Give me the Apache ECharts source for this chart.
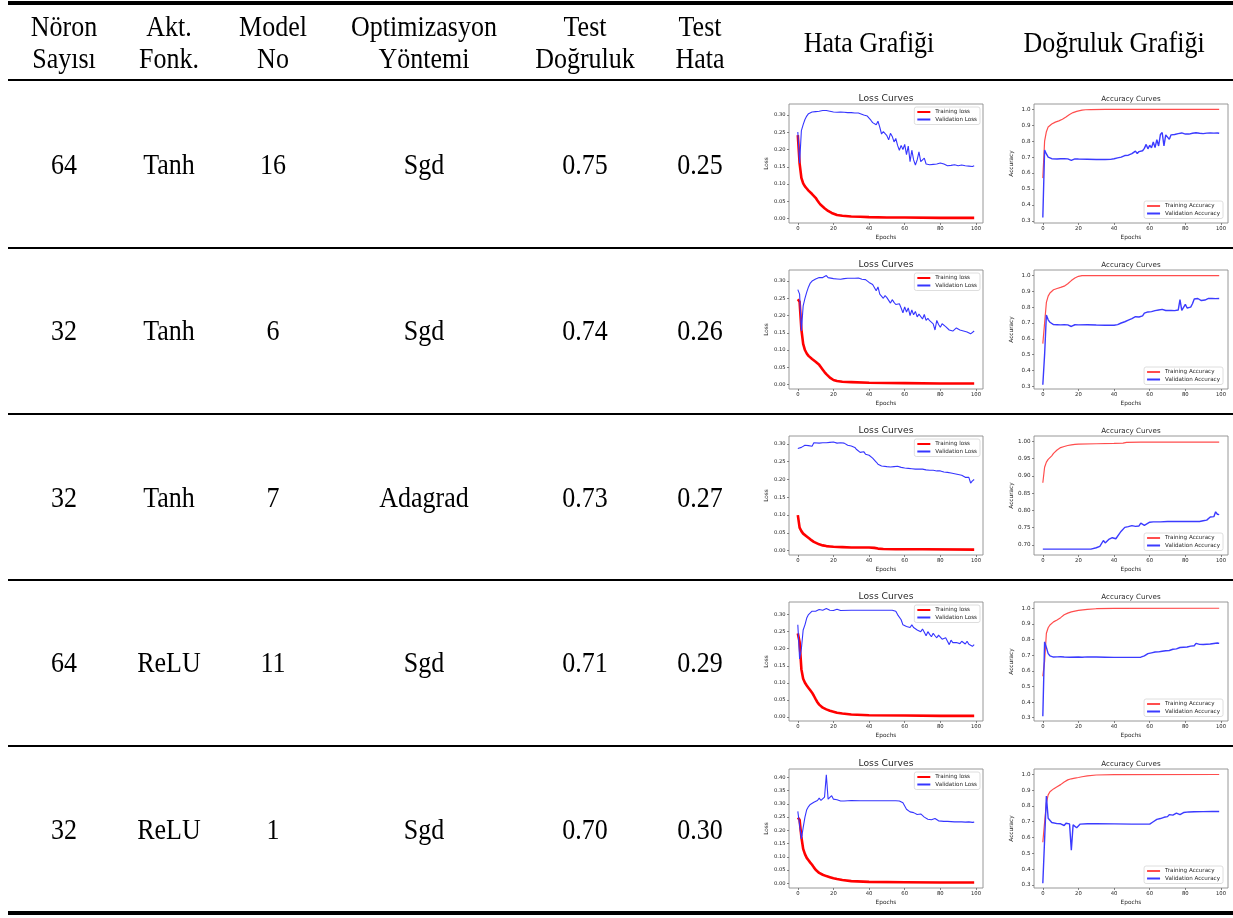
<!DOCTYPE html>
<html><head><meta charset="utf-8">
<script src="https://cdn.jsdelivr.net/npm/echarts@6/dist/echarts.min.js"></script>
<style>html,body{margin:0;padding:0;background:#fff}#c{width:1233px;height:918px}</style>
</head><body><div id="c"></div><script>
// ---------- table data ----------
const headerLine1 = ['Nöron', 'Akt.', 'Model', 'Optimizasyon', 'Test', 'Test'];
const headerLine2 = ['Sayısı', 'Fonk.', 'No', 'Yöntemi', 'Doğruluk', 'Hata'];
const chartHeaders = ['Hata Grafiği', 'Doğruluk Grafiği'];
const neurons = ['64', '32', '32', '64', '32'];
const activations = ['Tanh', 'Tanh', 'Tanh', 'ReLU', 'ReLU'];
const modelNo = ['16', '6', '7', '11', '1'];
const optimizers = ['Sgd', 'Sgd', 'Adagrad', 'Sgd', 'Sgd'];
const testAccuracy = ['0.75', '0.74', '0.73', '0.71', '0.70'];
const testError = ['0.25', '0.26', '0.27', '0.29', '0.30'];

// ---------- tick labels ----------
const epochTicks = [0, 20, 40, 60, 80, 100];
const lossTicks = [0, 0.05, 0.10, 0.15, 0.20, 0.25, 0.30];
const lossTicksWide = [0, 0.05, 0.10, 0.15, 0.20, 0.25, 0.30, 0.35, 0.40];
const accTicks = [0.3, 0.4, 0.5, 0.6, 0.7, 0.8, 0.9, 1.0];
const accTicksFine = [0.70, 0.75, 0.80, 0.85, 0.90, 0.95, 1.00];

// ---------- series data: [epoch, value] ----------
const r1LossTrain = [[0,0.242],[1,0.16],[2,0.118],[3,0.102],[4,0.093],[5,0.087],[6,0.081],[7,0.076],[8,0.071],[9,0.066],[10,0.06],[11,0.052],[12,0.045],[13,0.039],[14,0.034],[15,0.03],[16,0.026],[17,0.022],[18,0.019],[19,0.016],[20,0.013],[22,0.01],[25,0.008],[30,0.006],[35,0.005],[40,0.004],[50,0.003],[60,0.003],[80,0.002],[99,0.002]];
const r1LossVal = [[0,0.251],[1,0.16],[2,0.255],[3,0.272],[4,0.287],[5,0.297],[6,0.304],[7,0.308],[8,0.309],[10,0.31],[12,0.311],[14,0.313],[16,0.313],[18,0.311],[20,0.309],[22,0.308],[24,0.309],[26,0.308],[28,0.307],[30,0.307],[32,0.306],[34,0.306],[35,0.303],[37,0.3],[39,0.297],[40,0.293],[41,0.285],[42,0.278],[43,0.282],[44,0.272],[45,0.282],[46,0.265],[47,0.245],[48,0.252],[49,0.25],[50,0.24],[51,0.228],[52,0.247],[53,0.238],[54,0.222],[55,0.232],[56,0.212],[57,0.198],[58,0.212],[59,0.2],[60,0.215],[61,0.185],[62,0.21],[63,0.165],[64,0.198],[65,0.17],[66,0.155],[67,0.17],[68,0.193],[69,0.165],[70,0.16],[71,0.175],[72,0.158],[73,0.162],[74,0.156],[75,0.161],[76,0.157],[77,0.16],[78,0.158],[79,0.157],[80,0.161],[82,0.158],[84,0.153],[86,0.154],[88,0.156],[90,0.153],[92,0.155],[94,0.153],[96,0.152],[97,0.15],[98,0.151],[99,0.153]];
const r1AccTrain = [[0,0.568],[1,0.8],[2,0.86],[3,0.89],[4,0.9],[5,0.908],[6,0.915],[7,0.92],[8,0.925],[9,0.928],[10,0.932],[11,0.938],[12,0.945],[13,0.952],[14,0.96],[15,0.968],[16,0.975],[17,0.98],[18,0.984],[19,0.988],[20,0.991],[22,0.995],[24,0.998],[27,0.999],[35,1.0],[99,1.0]];
const r1AccVal = [[0,0.321],[1,0.745],[2,0.72],[3,0.7],[4,0.695],[5,0.69],[6,0.688],[8,0.688],[10,0.69],[12,0.69],[14,0.689],[15,0.688],[16,0.68],[17,0.69],[18,0.689],[20,0.688],[25,0.687],[30,0.685],[35,0.685],[38,0.686],[40,0.69],[42,0.695],[43,0.693],[44,0.7],[45,0.698],[46,0.71],[47,0.722],[48,0.712],[49,0.718],[50,0.722],[51,0.728],[52,0.738],[53,0.722],[54,0.735],[55,0.745],[56,0.74],[57,0.755],[58,0.78],[59,0.752],[60,0.775],[61,0.758],[62,0.795],[63,0.76],[64,0.81],[65,0.77],[66,0.842],[67,0.855],[68,0.77],[69,0.84],[70,0.852],[71,0.812],[72,0.84],[73,0.848],[74,0.842],[75,0.838],[76,0.848],[77,0.845],[78,0.852],[79,0.843],[80,0.845],[81,0.84],[82,0.845],[84,0.85],[85,0.855],[86,0.853],[88,0.85],[90,0.848],[92,0.851],[94,0.852],[96,0.851],[98,0.852],[99,0.85]];

const r2LossTrain = [[0,0.247],[1,0.24],[2,0.16],[3,0.118],[4,0.1],[5,0.09],[6,0.083],[7,0.078],[8,0.074],[9,0.07],[10,0.066],[11,0.062],[12,0.057],[13,0.05],[14,0.043],[15,0.036],[16,0.03],[17,0.025],[18,0.02],[19,0.016],[20,0.013],[22,0.01],[25,0.008],[30,0.007],[40,0.005],[60,0.004],[80,0.003],[99,0.003]];
const r2LossVal = [[0,0.275],[1,0.262],[2,0.155],[3,0.228],[4,0.25],[5,0.268],[6,0.283],[7,0.294],[8,0.3],[9,0.304],[10,0.306],[11,0.309],[12,0.31],[13,0.308],[14,0.31],[15,0.312],[16,0.316],[17,0.31],[18,0.308],[20,0.307],[22,0.306],[24,0.305],[26,0.307],[28,0.308],[30,0.308],[32,0.308],[34,0.309],[35,0.307],[36,0.305],[38,0.304],[39,0.3],[40,0.296],[41,0.292],[42,0.29],[43,0.287],[44,0.272],[45,0.283],[46,0.262],[47,0.26],[48,0.25],[49,0.258],[50,0.252],[51,0.244],[52,0.236],[53,0.246],[54,0.238],[55,0.232],[56,0.232],[57,0.234],[58,0.222],[59,0.208],[60,0.225],[61,0.21],[62,0.222],[63,0.2],[64,0.216],[65,0.202],[66,0.212],[67,0.196],[68,0.204],[69,0.199],[70,0.19],[71,0.203],[72,0.186],[73,0.192],[74,0.185],[75,0.18],[76,0.176],[77,0.158],[78,0.186],[79,0.174],[80,0.166],[81,0.176],[82,0.172],[83,0.168],[84,0.165],[85,0.158],[86,0.155],[87,0.155],[88,0.152],[89,0.164],[90,0.163],[91,0.158],[92,0.155],[93,0.155],[94,0.152],[95,0.152],[96,0.149],[97,0.147],[98,0.149],[99,0.155]];
const r2AccTrain = [[0,0.57],[1,0.58],[2,0.83],[3,0.87],[4,0.89],[5,0.902],[6,0.91],[7,0.915],[8,0.918],[10,0.925],[12,0.933],[13,0.94],[14,0.948],[15,0.958],[16,0.968],[17,0.976],[18,0.984],[19,0.99],[20,0.995],[22,0.999],[30,1.0],[99,1.0]];
const r2AccVal = [[0,0.31],[1,0.5],[2,0.75],[3,0.72],[4,0.705],[5,0.695],[6,0.69],[8,0.689],[10,0.688],[12,0.689],[14,0.688],[15,0.686],[16,0.678],[17,0.688],[18,0.689],[20,0.688],[25,0.689],[30,0.687],[35,0.686],[40,0.686],[42,0.69],[43,0.698],[44,0.7],[45,0.71],[46,0.708],[47,0.72],[48,0.718],[49,0.725],[50,0.728],[51,0.73],[52,0.74],[53,0.735],[54,0.738],[55,0.742],[56,0.745],[57,0.762],[58,0.752],[59,0.77],[60,0.758],[61,0.772],[62,0.765],[63,0.778],[64,0.77],[65,0.782],[66,0.775],[67,0.786],[68,0.776],[69,0.779],[70,0.776],[72,0.78],[74,0.778],[75,0.78],[76,0.782],[77,0.848],[78,0.78],[79,0.79],[80,0.818],[81,0.795],[82,0.79],[83,0.8],[84,0.822],[85,0.852],[86,0.857],[87,0.855],[88,0.854],[89,0.842],[90,0.836],[91,0.845],[92,0.852],[93,0.855],[95,0.855],[97,0.854],[99,0.855]];

const r3LossTrain = [[0,0.1],[1,0.065],[2,0.055],[3,0.048],[4,0.043],[5,0.04],[6,0.036],[7,0.032],[8,0.028],[9,0.025],[10,0.022],[12,0.018],[14,0.015],[16,0.013],[18,0.012],[20,0.011],[25,0.01],[30,0.009],[35,0.009],[40,0.009],[43,0.008],[45,0.006],[48,0.005],[55,0.004],[70,0.004],[99,0.003]];
const r3LossVal = [[0,0.287],[1,0.288],[2,0.29],[3,0.292],[4,0.296],[5,0.297],[6,0.295],[7,0.298],[8,0.293],[9,0.303],[10,0.302],[12,0.302],[14,0.303],[16,0.303],[18,0.304],[20,0.305],[21,0.304],[22,0.302],[24,0.303],[25,0.3],[26,0.302],[27,0.301],[28,0.296],[30,0.294],[31,0.291],[32,0.29],[33,0.284],[34,0.283],[35,0.276],[36,0.276],[37,0.278],[38,0.271],[39,0.272],[40,0.268],[41,0.265],[42,0.26],[43,0.256],[44,0.249],[45,0.243],[46,0.239],[47,0.238],[48,0.236],[50,0.236],[52,0.235],[53,0.237],[54,0.236],[55,0.231],[56,0.237],[58,0.234],[60,0.232],[62,0.231],[64,0.23],[66,0.229],[68,0.229],[69,0.227],[70,0.229],[72,0.227],[74,0.226],[76,0.226],[78,0.224],[79,0.222],[80,0.224],[82,0.221],[84,0.22],[86,0.218],[88,0.216],[90,0.214],[92,0.212],[94,0.206],[95,0.203],[96,0.206],[97,0.19],[98,0.196],[99,0.2]];
const r3AccTrain = [[0,0.88],[1,0.925],[2,0.94],[3,0.948],[4,0.952],[5,0.958],[6,0.965],[7,0.97],[8,0.975],[9,0.979],[10,0.982],[12,0.985],[14,0.988],[16,0.99],[18,0.991],[20,0.992],[30,0.993],[40,0.994],[45,0.995],[47,0.997],[55,0.998],[99,0.998]];
const r3AccVal = [[0,0.688],[9,0.688],[10,0.685],[11,0.688],[27,0.688],[28,0.692],[30,0.692],[31,0.694],[32,0.696],[33,0.7],[34,0.713],[35,0.706],[36,0.708],[37,0.716],[38,0.712],[39,0.721],[40,0.72],[41,0.718],[42,0.721],[43,0.733],[44,0.74],[45,0.745],[46,0.751],[48,0.753],[50,0.756],[51,0.757],[52,0.754],[54,0.755],[55,0.763],[56,0.765],[57,0.757],[58,0.761],[60,0.766],[62,0.767],[66,0.767],[70,0.768],[80,0.768],[88,0.768],[90,0.77],[91,0.77],[92,0.772],[93,0.776],[94,0.781],[95,0.777],[96,0.782],[97,0.796],[98,0.789],[99,0.788]];

const r4LossTrain = [[0,0.245],[1,0.22],[2,0.14],[3,0.112],[4,0.1],[5,0.092],[6,0.085],[7,0.078],[8,0.071],[9,0.062],[10,0.052],[11,0.043],[12,0.036],[13,0.031],[14,0.027],[16,0.022],[18,0.018],[20,0.015],[22,0.012],[25,0.01],[30,0.007],[40,0.005],[60,0.004],[80,0.003],[99,0.003]];
const r4LossVal = [[0,0.27],[1,0.17],[2,0.2],[3,0.255],[4,0.27],[5,0.29],[6,0.3],[7,0.305],[8,0.31],[9,0.305],[10,0.31],[11,0.31],[12,0.315],[13,0.312],[14,0.313],[15,0.315],[16,0.318],[17,0.316],[18,0.313],[19,0.316],[20,0.312],[21,0.31],[22,0.316],[23,0.312],[24,0.312],[25,0.313],[30,0.313],[35,0.313],[40,0.313],[45,0.313],[50,0.313],[53,0.313],[54,0.31],[55,0.31],[56,0.3],[57,0.295],[58,0.285],[59,0.27],[60,0.275],[61,0.265],[62,0.268],[63,0.262],[64,0.27],[65,0.262],[66,0.262],[67,0.255],[68,0.26],[69,0.25],[70,0.258],[71,0.248],[72,0.238],[73,0.25],[74,0.242],[75,0.235],[76,0.245],[77,0.238],[78,0.232],[79,0.24],[80,0.235],[81,0.228],[82,0.232],[83,0.232],[84,0.222],[85,0.212],[86,0.225],[87,0.218],[88,0.222],[89,0.218],[90,0.222],[91,0.215],[92,0.222],[93,0.218],[94,0.214],[95,0.222],[96,0.213],[97,0.21],[98,0.207],[99,0.212]];
const r4AccTrain = [[0,0.565],[1,0.66],[2,0.84],[3,0.875],[4,0.893],[5,0.905],[6,0.913],[7,0.92],[8,0.925],[9,0.93],[10,0.94],[11,0.95],[12,0.958],[13,0.964],[14,0.969],[16,0.977],[18,0.982],[20,0.986],[25,0.993],[30,0.997],[40,0.999],[99,1.0]];
const r4AccVal = [[0,0.31],[1,0.785],[2,0.75],[3,0.71],[4,0.696],[5,0.69],[6,0.688],[8,0.689],[10,0.69],[12,0.688],[15,0.687],[20,0.688],[22,0.687],[25,0.689],[30,0.688],[35,0.687],[40,0.686],[45,0.686],[50,0.686],[55,0.687],[56,0.69],[57,0.695],[58,0.7],[59,0.71],[60,0.72],[61,0.715],[62,0.721],[63,0.72],[64,0.726],[65,0.721],[66,0.728],[67,0.725],[68,0.731],[69,0.728],[70,0.736],[71,0.73],[72,0.741],[73,0.738],[74,0.745],[75,0.74],[76,0.743],[77,0.749],[78,0.745],[79,0.751],[80,0.75],[81,0.752],[82,0.755],[83,0.758],[84,0.755],[85,0.76],[86,0.775],[87,0.765],[88,0.769],[89,0.765],[90,0.768],[91,0.766],[92,0.77],[93,0.768],[94,0.771],[95,0.772],[96,0.775],[97,0.77],[98,0.778],[99,0.775]];

const r5LossTrain = [[0,0.248],[1,0.24],[2,0.175],[3,0.13],[4,0.11],[5,0.096],[6,0.087],[7,0.078],[8,0.07],[9,0.06],[10,0.051],[11,0.044],[12,0.039],[13,0.035],[14,0.032],[16,0.027],[18,0.023],[20,0.019],[22,0.016],[25,0.012],[30,0.008],[40,0.005],[60,0.004],[80,0.003],[99,0.003]];
const r5LossVal = [[0,0.272],[1,0.268],[2,0.168],[3,0.21],[4,0.25],[5,0.278],[6,0.29],[7,0.298],[8,0.302],[9,0.306],[10,0.31],[11,0.313],[12,0.322],[13,0.313],[14,0.318],[15,0.326],[16,0.41],[17,0.318],[18,0.322],[19,0.331],[20,0.318],[21,0.314],[22,0.316],[23,0.313],[24,0.311],[26,0.311],[28,0.312],[30,0.313],[35,0.312],[40,0.312],[45,0.312],[50,0.312],[55,0.312],[57,0.311],[58,0.309],[59,0.304],[60,0.292],[61,0.28],[62,0.276],[63,0.27],[64,0.268],[65,0.267],[66,0.263],[67,0.26],[68,0.257],[69,0.262],[70,0.257],[71,0.25],[72,0.245],[73,0.242],[74,0.246],[75,0.24],[76,0.238],[77,0.245],[78,0.238],[79,0.236],[80,0.235],[82,0.234],[84,0.234],[86,0.233],[88,0.232],[90,0.232],[92,0.232],[94,0.231],[96,0.232],[98,0.23],[99,0.231]];
const r5AccTrain = [[0,0.57],[1,0.57],[2,0.82],[3,0.87],[4,0.89],[5,0.9],[6,0.908],[7,0.915],[8,0.922],[10,0.935],[12,0.952],[14,0.965],[16,0.972],[18,0.976],[20,0.98],[22,0.985],[25,0.99],[30,0.996],[40,0.998],[99,0.999]];
const r5AccVal = [[0,0.31],[1,0.31],[2,0.862],[3,0.722],[4,0.71],[5,0.695],[6,0.69],[8,0.688],[10,0.687],[11,0.685],[12,0.676],[13,0.69],[14,0.69],[15,0.686],[16,0.52],[17,0.68],[18,0.675],[19,0.662],[20,0.672],[21,0.685],[22,0.688],[25,0.687],[30,0.687],[40,0.686],[50,0.685],[55,0.685],[60,0.685],[61,0.69],[62,0.7],[63,0.71],[64,0.715],[65,0.718],[66,0.72],[67,0.722],[68,0.728],[69,0.725],[70,0.732],[71,0.745],[72,0.75],[73,0.742],[74,0.745],[75,0.755],[76,0.757],[77,0.745],[78,0.75],[79,0.758],[80,0.76],[82,0.762],[85,0.763],[90,0.764],[95,0.765],[99,0.765]];

// ---------- assembly ----------
const lossTrain = [r1LossTrain, r2LossTrain, r3LossTrain, r4LossTrain, r5LossTrain];
const lossVal = [r1LossVal, r2LossVal, r3LossVal, r4LossVal, r5LossVal];
const accTrain = [r1AccTrain, r2AccTrain, r3AccTrain, r4AccTrain, r5AccTrain];
const accVal = [r1AccVal, r2AccVal, r3AccVal, r4AccVal, r5AccVal];

const rowOffset = [0, 166, 332, 498, 665];
const lossRange = [[-0.013, 0.332], [-0.013, 0.332], [-0.012, 0.322], [-0.012, 0.337], [-0.018, 0.432]];
const accRange = [[0.286, 1.034], [0.283, 1.035], [0.671, 1.0155], [0.279, 1.04], [0.28, 1.034]];
const lossTickSets = [lossTicks, lossTicks, lossTicks, lossTicks, lossTicksWide];
const accTickSets = [accTicks, accTicks, accTicksFine, accTicks, accTicks];
const accDigits = [1, 1, 2, 1, 1];

const FONT = 'DejaVu Sans';
const SERIF = 'Liberation Serif';
const TXT = '#262626';

const grids = [], xAxes = [], yAxes = [], series = [], titles = [], legends = [];

function addChart(kind, r) {
  const idx = grids.length;
  const dy = rowOffset[r];
  const left = kind === 'loss' ? 789 : 1034;
  grids.push({left: left, top: 104 + dy, width: 194, height: 119, show: true,
    borderColor: '#8c8c8c', borderWidth: 0.9, backgroundColor: 'transparent',
    containLabel: false, outerBoundsMode: 'none'});
  xAxes.push({gridIndex: idx, type: 'value', min: -4.95, max: 103.95, position: 'bottom',
    axisLine: {show: false, onZero: false}, splitLine: {show: false},
    axisTick: {show: true, length: 2, lineStyle: {color: '#555', width: 0.7}, customValues: epochTicks},
    axisLabel: {customValues: epochTicks, fontSize: 5.3, color: TXT, margin: 3.5, fontFamily: FONT},
    name: 'Epochs', nameLocation: 'middle', nameGap: 11, nameMoveOverlap: false,
    nameTextStyle: {fontSize: 5.8, color: TXT, fontFamily: FONT}});
  const rng = kind === 'loss' ? lossRange[r] : accRange[r];
  const ticks = kind === 'loss' ? lossTickSets[r] : accTickSets[r];
  const digits = kind === 'loss' ? 2 : accDigits[r];
  yAxes.push({gridIndex: idx, type: 'value', min: rng[0], max: rng[1], position: 'left',
    axisLine: {show: false, onZero: false}, splitLine: {show: false},
    axisTick: {show: true, length: 2, lineStyle: {color: '#555', width: 0.7}, customValues: ticks},
    axisLabel: {customValues: ticks, fontSize: kind === 'loss' ? 5.2 : 5.6, color: TXT, margin: 3.5, fontFamily: FONT,
      formatter: v => Number(v).toFixed(digits)},
    name: kind === 'loss' ? 'Loss' : 'Accuracy', nameLocation: 'middle', nameRotate: 90,
    nameGap: 20, nameMoveOverlap: false,
    nameTextStyle: {fontSize: 5.8, color: TXT, fontFamily: FONT}});
  const cx = left + 97;
  if (kind === 'loss') {
    titles.push({text: 'Loss Curves', left: cx, top: 94 + dy, textAlign: 'center', padding: 0,
      textStyle: {fontSize: 9.2, fontWeight: 'normal', color: '#2a2a2a', fontFamily: FONT}});
    series.push({type: 'line', name: 'Training loss', xAxisIndex: idx, yAxisIndex: idx, data: lossTrain[r],
      symbol: 'none', showSymbol: false, silent: true, animation: false,
      itemStyle: {color: '#ff0000'}, lineStyle: {color: '#ff0000', width: 2.6}});
    series.push({type: 'line', name: 'Validation Loss', xAxisIndex: idx, yAxisIndex: idx, data: lossVal[r],
      symbol: 'none', showSymbol: false, silent: true, animation: false,
      itemStyle: {color: '#3535ff'}, lineStyle: {color: '#3535ff', width: 1.1}});
    legends.push({data: ['Training loss', 'Validation Loss'], orient: 'vertical', right: 253, top: 107 + dy,
      icon: 'rect', itemWidth: 13, itemHeight: 2, itemGap: 1.5, padding: [2, 3, 2, 3], selectedMode: false,
      backgroundColor: '#fff', borderColor: '#d6d6d6', borderWidth: 0.8, borderRadius: 2,
      textStyle: {fontSize: 5.6, fontFamily: FONT, color: TXT}});
  } else {
    titles.push({text: 'Accuracy Curves', left: cx, top: 95.5 + dy, textAlign: 'center', padding: 0,
      textStyle: {fontSize: 7.1, fontWeight: 'normal', color: '#2a2a2a', fontFamily: FONT}});
    series.push({type: 'line', name: 'Training Accuracy', xAxisIndex: idx, yAxisIndex: idx, data: accTrain[r],
      symbol: 'none', showSymbol: false, silent: true, animation: false,
      itemStyle: {color: '#ff4d4d'}, lineStyle: {color: '#ff4d4d', width: 1.2}});
    series.push({type: 'line', name: 'Validation Accuracy', xAxisIndex: idx, yAxisIndex: idx, data: accVal[r],
      symbol: 'none', showSymbol: false, silent: true, animation: false,
      itemStyle: {color: '#3b3bff'}, lineStyle: {color: '#3b3bff', width: 1.4}});
    legends.push({data: ['Training Accuracy', 'Validation Accuracy'], orient: 'vertical', right: 10, top: 201 + dy,
      icon: 'rect', itemWidth: 13, itemHeight: 2, itemGap: 1.5, padding: [2, 3, 2, 3], selectedMode: false,
      backgroundColor: '#fff', borderColor: '#d6d6d6', borderWidth: 0.8, borderRadius: 2,
      textStyle: {fontSize: 5.6, fontFamily: FONT, color: TXT}});
  }
}
for (let r = 0; r < 5; r++) { addChart('loss', r); addChart('acc', r); }

// ---------- table graphics ----------
const graphics = [];
function hline(y, h) {
  graphics.push({type: 'rect', silent: true, shape: {x: 8, y: y, width: 1225, height: h}, style: {fill: '#000'}});
}
function txt(s, x, y) {
  graphics.push({type: 'text', silent: true, x: x, y: y, scaleY: 1.12,
    style: {text: s, fill: '#000', fontSize: 26, fontFamily: SERIF,
      textAlign: 'center', textVerticalAlign: 'middle', align: 'center', verticalAlign: 'middle'}});
}
hline(1, 4); hline(79, 2);
[247, 413, 579, 745].forEach(y => hline(y, 2));
hline(911, 4);

const colX = [64, 169, 273, 424, 585, 700];
headerLine1.forEach((s, i) => txt(s, colX[i], 28));
headerLine2.forEach((s, i) => txt(s, colX[i], 60));
txt(chartHeaders[0], 869, 44);
txt(chartHeaders[1], 1114, 44);
const rowY = [166, 332, 499, 664, 831];
const cols = [neurons, activations, modelNo, optimizers, testAccuracy, testError];
for (let r = 0; r < 5; r++) {
  cols.forEach((arr, i) => txt(arr[r], colX[i], rowY[r]));
}

const chart = echarts.init(document.getElementById('c'), null, {renderer: 'canvas'});
chart.setOption({
  animation: false,
  backgroundColor: '#fff',
  title: titles,
  legend: legends,
  grid: grids,
  xAxis: xAxes,
  yAxis: yAxes,
  series: series,
  graphic: graphics
});
</script></body></html>
